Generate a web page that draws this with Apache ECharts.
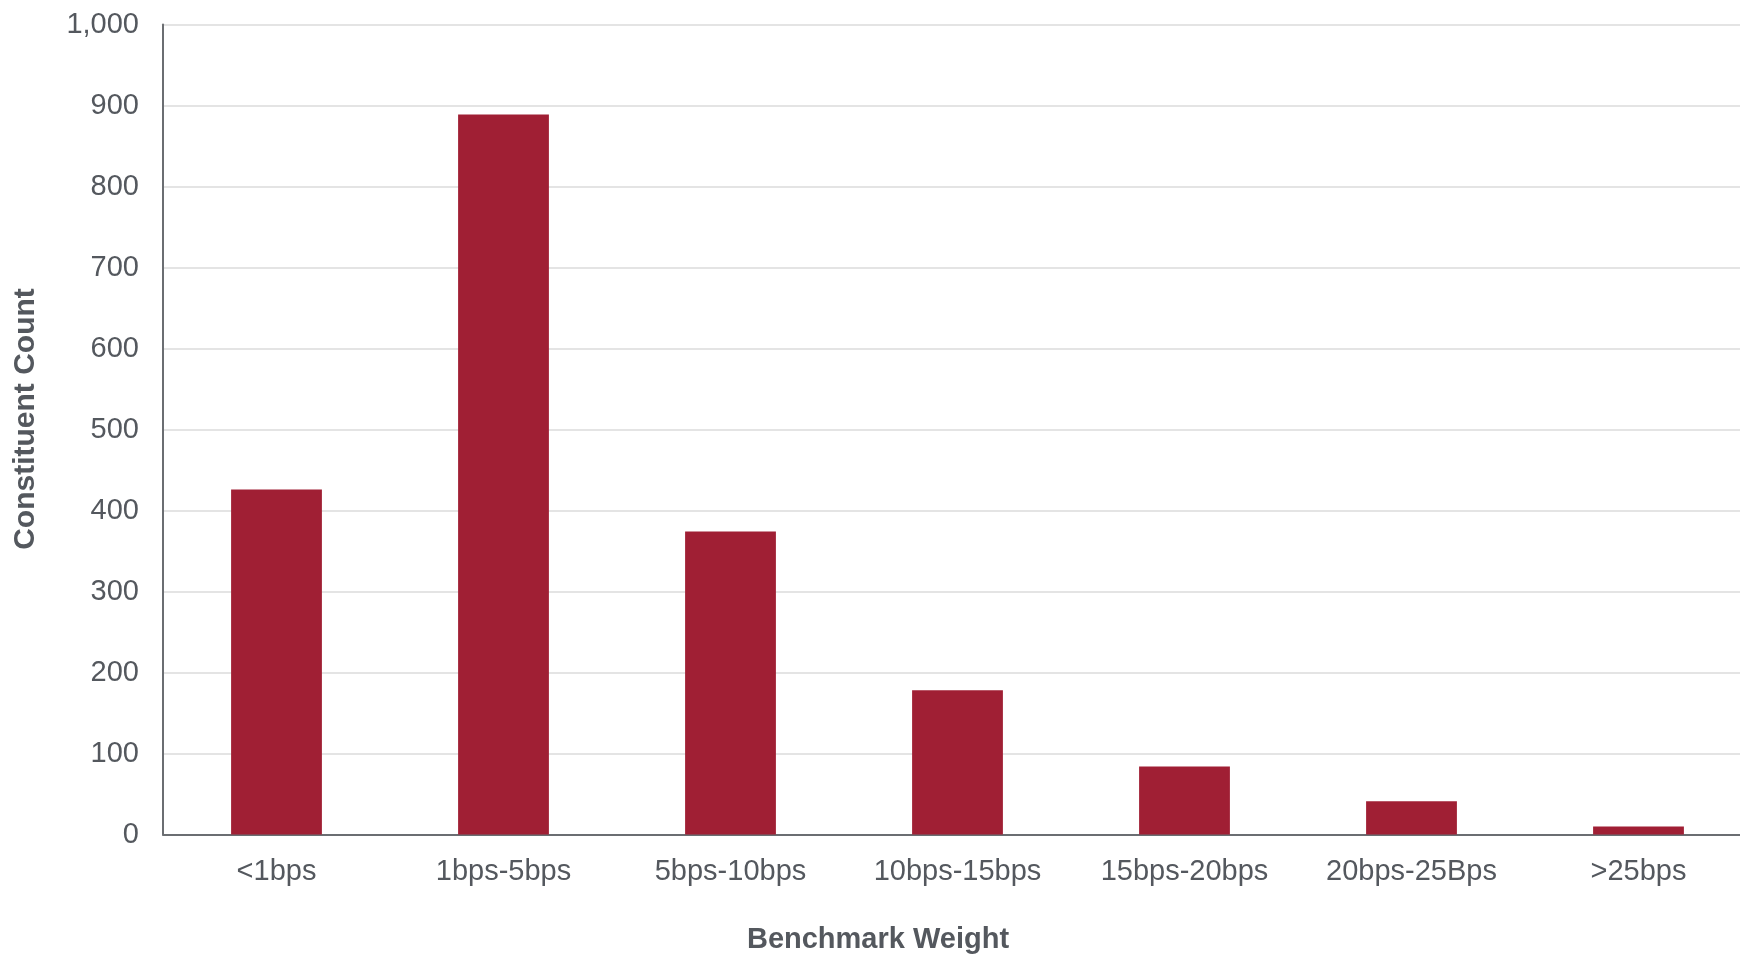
<!DOCTYPE html>
<html>
<head>
<meta charset="utf-8">
<script src="https://cdn.jsdelivr.net/npm/echarts@6/dist/echarts.min.js"></script>
<style>
html,body{margin:0;padding:0;background:#fff;overflow:hidden;width:1740px;height:956px;}
#chart{width:1760px;height:956px;}
</style>
</head>
<body>
<div id="chart"></div>
<script>
const categories = ['<1bps', '1bps-5bps', '5bps-10bps', '10bps-15bps', '15bps-20bps', '20bps-25Bps', '>25bps'];
const counts = [426, 889, 374, 178, 84, 41, 10];
const yMin = 0, yMax = 1000, yInterval = 100;

const chart = echarts.init(document.getElementById('chart'), null, {renderer: 'canvas'});
const textColor = '#54585e';
const font = 'Liberation Sans, Arial, sans-serif';
chart.setOption({
  animation: false,
  backgroundColor: '#ffffff',
  grid: {left: 163, top: 24.5, width: 1589, bottom: 121.5, containLabel: false},
  xAxis: {
    type: 'category',
    data: categories,
    axisLine: {show: true, lineStyle: {color: '#6b6e72', width: 2}},
    axisTick: {show: false},
    axisLabel: {color: textColor, fontSize: 29, fontFamily: font, margin: 23},
    splitLine: {show: false}
  },
  yAxis: {
    type: 'value',
    min: yMin, max: yMax, interval: yInterval,
    axisLine: {show: true, lineStyle: {color: '#6b6e72', width: 2}},
    axisTick: {show: false},
    axisLabel: {color: textColor, fontSize: 29, fontFamily: font, margin: 24,
      formatter: v => v.toLocaleString('en-US')},
    splitLine: {show: true, lineStyle: {color: '#e4e4e4', width: 2}}
  },
  graphic: [
    {type: 'text', x: 878, y: 925, style: {text: 'Benchmark Weight', fill: textColor, font: 'bold 29px ' + font, align: 'center'}},
    {type: 'text', x: 11, y: 419, rotation: Math.PI/2, style: {text: 'Constituent Count', fill: textColor, font: 'bold 30px ' + font, align: 'center', verticalAlign: 'top'}}
  ],
  series: [{
    type: 'bar',
    data: counts,
    barWidth: '40%',
    itemStyle: {color: '#a01f34'}
  }]
});
</script>
</body>
</html>
